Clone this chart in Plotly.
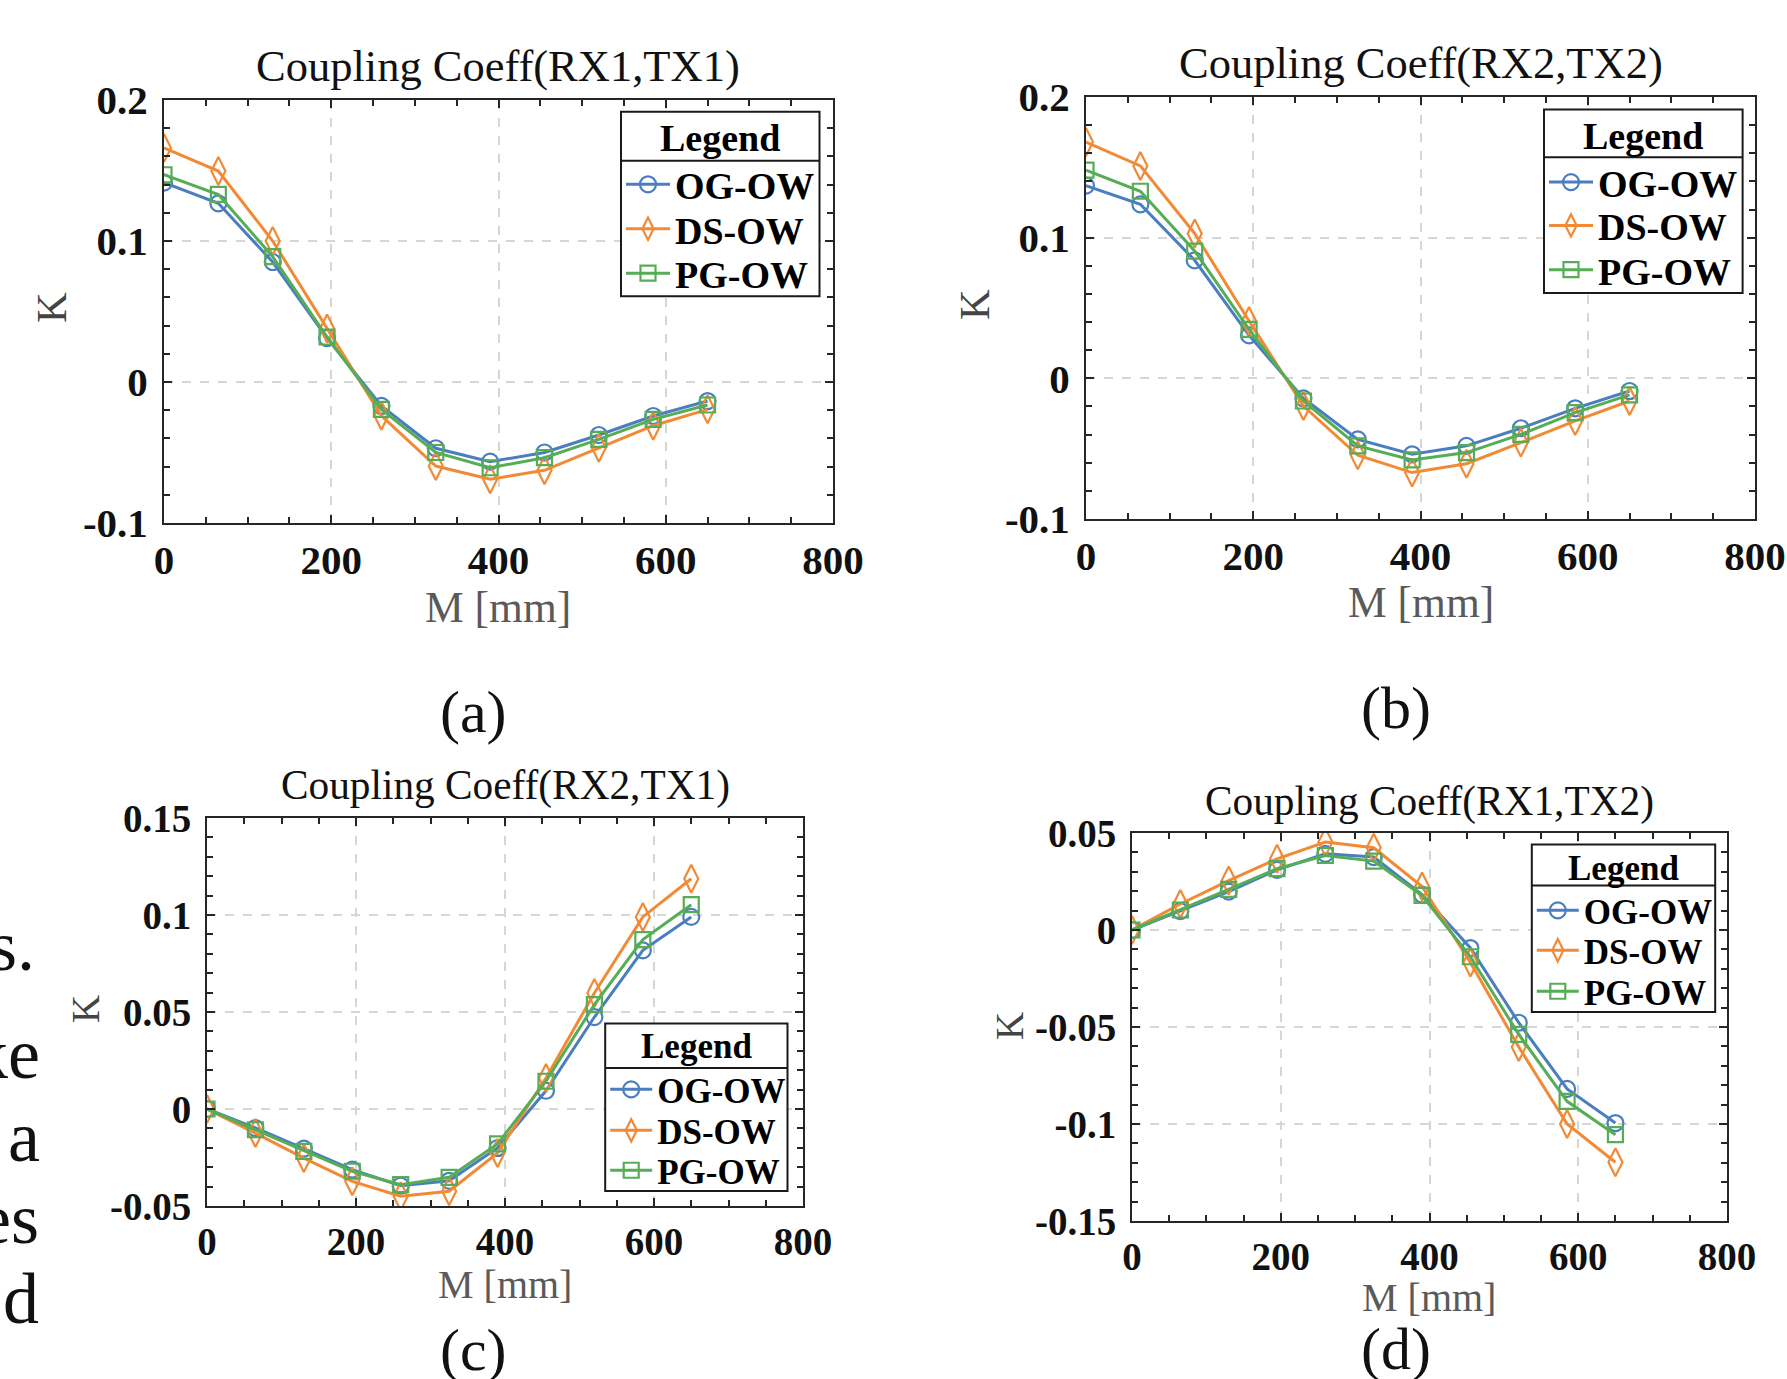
import plotly.graph_objects as go

# ---------------- data ----------------
M_mm = [0, 65, 130, 195, 260, 325, 390, 455, 520, 585, 650]
series_names = ["OG-OW", "DS-OW", "PG-OW"]

a_og = [0.1414, 0.1267, 0.0851, 0.0312, -0.0170, -0.0470, -0.0565, -0.0500, -0.0376, -0.0241, -0.0135]
a_ds = [0.1660, 0.1496, 0.1000, 0.0380, -0.0240, -0.0596, -0.0690, -0.0626, -0.0466, -0.0310, -0.0194]
a_pg = [0.1470, 0.1330, 0.0889, 0.0319, -0.0194, -0.0500, -0.0608, -0.0537, -0.0407, -0.0265, -0.0163]

b_og = [0.1370, 0.1237, 0.0839, 0.0306, -0.0142, -0.0434, -0.0540, -0.0480, -0.0355, -0.0213, -0.0090]
b_ds = [0.1680, 0.1510, 0.1030, 0.0408, -0.0197, -0.0547, -0.0670, -0.0607, -0.0457, -0.0303, -0.0161]
b_pg = [0.1480, 0.1330, 0.0905, 0.0348, -0.0161, -0.0480, -0.0580, -0.0528, -0.0398, -0.0244, -0.0118]

c_og = [0.0, -0.0098, -0.0204, -0.0313, -0.0395, -0.0370, -0.0201, 0.0094, 0.0474, 0.0818, 0.0990]
c_ds = [0.0, -0.0124, -0.0253, -0.0373, -0.0450, -0.0424, -0.0227, 0.0160, 0.0598, 0.0990, 0.1187]
c_pg = [0.0, -0.0107, -0.0218, -0.0321, -0.0390, -0.0352, -0.0180, 0.0143, 0.0538, 0.0873, 0.1053]

d_og = [0.0, 0.0097, 0.0198, 0.0310, 0.0393, 0.0376, 0.0183, -0.0093, -0.0478, -0.0819, -0.0995]
d_ds = [0.0, 0.0134, 0.0255, 0.0367, 0.0453, 0.0424, 0.0224, -0.0167, -0.0603, -0.1000, -0.1197]
d_pg = [0.0, 0.0103, 0.0209, 0.0316, 0.0384, 0.0355, 0.0178, -0.0138, -0.0538, -0.0883, -0.1055]

panel_titles = ["Coupling Coeff(RX1,TX1)", "Coupling Coeff(RX2,TX2)",
                "Coupling Coeff(RX2,TX1)", "Coupling Coeff(RX1,TX2)"]
panel_tags = ["(a)", "(b)", "(c)", "(d)"]
legend_title = "Legend"
x_label = "M [mm]"
y_label = "K"

x_tickvals = [0, 200, 400, 600, 800]
x_ticktext = ["0", "200", "400", "600", "800"]
y_tickvals_ab = [-0.1, 0, 0.1, 0.2]
y_ticktext_ab = ["-0.1", "0", "0.1", "0.2"]
y_tickvals_c = [-0.05, 0, 0.05, 0.1, 0.15]
y_ticktext_c = ["-0.05", "0", "0.05", "0.1", "0.15"]
y_tickvals_d = [-0.15, -0.1, -0.05, 0, 0.05]
y_ticktext_d = ["-0.15", "-0.1", "-0.05", "0", "0.05"]

body_fragments = ["s.", "ke", "a", "es", "d"]

# ---------------- styling / layout helpers ----------------
W, H = 1787, 1379
def px(x):
    return x / W
def py(y):
    return 1 - y / H

SERIF = "Liberation Serif"
colors = ["#4a7ebf", "#f28a35", "#56ad56"]
symbols = ["circle-open", "diamond-tall-open", "square-open"]
msizes = [16, 20, 15]

panels = [
    dict(data=[a_og, a_ds, a_pg], box=(164, 833, 100, 523), yr=[-0.1, 0.2], yt=(y_tickvals_ab, y_ticktext_ab), ymin=0.02,
         title=(498, 66), xl=(498, 607), yl=(51, 308), tag=(473, 712), tfs=44.5, afs=43.5, tkfs=41,
         lbox=(621, 819.5, 111.7, 296.3), ldiv=160.7, ltitle=138, rows=(184.6, 229, 273.5), lfs=38, iw=44),
    dict(data=[b_og, b_ds, b_pg], box=(1086, 1755, 97, 519), yr=[-0.1, 0.2], yt=(y_tickvals_ab, y_ticktext_ab), ymin=0.02,
         title=(1421, 63), xl=(1421, 602), yl=(974, 305), tag=(1396, 708), tfs=44.5, afs=43.5, tkfs=41,
         lbox=(1544, 1742.6, 109.4, 292.9), ldiv=157.3, ltitle=135.6, rows=(182.4, 225.7, 270), lfs=38, iw=44),
    dict(data=[c_og, c_ds, c_pg], box=(207, 803, 818, 1206), yr=[-0.05, 0.15], yt=(y_tickvals_c, y_ticktext_c), ymin=0.01,
         title=(505, 786), xl=(505, 1284), yl=(85, 1009), tag=(473, 1350), tfs=41.3, afs=40, tkfs=39,
         lbox=(605.2, 787.5, 1023.4, 1191), ldiv=1067.9, ltitle=1046.2, rows=(1089.6, 1130.6, 1170.5), lfs=35, iw=42),
    dict(data=[d_og, d_ds, d_pg], box=(1132, 1727, 833, 1221), yr=[-0.15, 0.05], yt=(y_tickvals_d, y_ticktext_d), ymin=0.01,
         title=(1429, 801), xl=(1429, 1297), yl=(1009, 1026), tag=(1396, 1349), tfs=41.3, afs=40, tkfs=39,
         lbox=(1531.8, 1715.2, 844.5, 1012), ldiv=885.5, ltitle=868.5, rows=(910.6, 950.5, 991.5), lfs=35, iw=42),
]

fig = go.Figure()
annotations = []
shapes = []
layout_extra = {}
leg_count = 0

for i, p in enumerate(panels):
    n = "" if i == 0 else str(i + 1)
    xa, ya = "x" + n, "y" + n
    lL, lR, lT, lB = p["lbox"]
    lf = dict(family=SERIF, size=p["lfs"], color="black", weight="bold")
    for s in range(3):
        leg_count += 1
        legname = "legend" if leg_count == 1 else "legend" + str(leg_count)
        fig.add_trace(go.Scatter(
            x=M_mm, y=p["data"][s], name=series_names[s], mode="lines+markers",
            xaxis=xa, yaxis=ya, legend=legname,
            line=dict(color=colors[s], width=3),
            marker=dict(symbol=symbols[s], size=msizes[s], color=colors[s], line=dict(width=2.2, color=colors[s])),
        ))
        layout_extra[legname] = dict(x=px(lL), y=py(p["rows"][s]), xanchor="left", yanchor="middle",
                                     bgcolor="rgba(0,0,0,0)", borderwidth=0,
                                     font=lf, itemwidth=p["iw"], tracegroupgap=0)
    L, R, T, B = p["box"]
    common = dict(showline=True, linecolor="#262626", linewidth=2, mirror="ticks",
                  ticks="inside", ticklen=8, tickwidth=1.5, tickcolor="#262626",
                  showgrid=True, gridcolor="#d6d6d6", griddash="dash", gridwidth=1.5,
                  zeroline=False, ticklabeloverflow="allow",
                  tickfont=dict(family=SERIF, size=p["tkfs"], color="#111", weight="bold"))
    layout_extra["xaxis" + n] = dict(common, domain=[px(L), px(R)], anchor=ya, range=[0, 800],
                                     tickmode="array", tickvals=x_tickvals, ticktext=x_ticktext,
                                     minor=dict(dtick=50, tick0=0, ticks="inside", ticklen=6, tickcolor="#262626", showgrid=False),
                                     ticklabelstandoff=0)
    layout_extra["yaxis" + n] = dict(common, domain=[py(B), py(T)], anchor=xa, range=p["yr"],
                                     tickmode="array", tickvals=p["yt"][0], ticktext=p["yt"][1],
                                     minor=dict(dtick=p["ymin"], tick0=0, ticks="inside", ticklen=6, tickcolor="#262626", showgrid=False),
                                     ticklabelstandoff=6)
    # legend frame (box + header divider)
    shapes.append(dict(type="rect", xref="paper", yref="paper", x0=px(lL), x1=px(lR), y0=py(lB), y1=py(lT),
                       fillcolor="white", line=dict(color="#1a1a1a", width=2), layer="above"))
    shapes.append(dict(type="line", xref="paper", yref="paper", x0=px(lL), x1=px(lR), y0=py(p["ldiv"]), y1=py(p["ldiv"]),
                       line=dict(color="#1a1a1a", width=2), layer="above"))
    annotations.append(dict(text=legend_title, x=px((lL + lR) / 2), y=py(p["ltitle"]), xref="paper", yref="paper",
                            showarrow=False, xanchor="center", yanchor="middle", font=lf))
    annotations.append(dict(text=panel_titles[i], x=px(p["title"][0]), y=py(p["title"][1]), xref="paper", yref="paper",
                            showarrow=False, xanchor="center", yanchor="middle",
                            font=dict(family=SERIF, size=p["tfs"], color="#111")))
    annotations.append(dict(text=x_label, x=px(p["xl"][0]), y=py(p["xl"][1]), xref="paper", yref="paper",
                            showarrow=False, xanchor="center", yanchor="middle",
                            font=dict(family=SERIF, size=p["afs"], color="#5a5a5a")))
    annotations.append(dict(text=y_label, x=px(p["yl"][0]), y=py(p["yl"][1]), xref="paper", yref="paper",
                            showarrow=False, xanchor="center", yanchor="middle", textangle=-90,
                            font=dict(family=SERIF, size=p["afs"] - 1, color="#444")))
    annotations.append(dict(text=panel_tags[i], x=px(p["tag"][0]), y=py(p["tag"][1]), xref="paper", yref="paper",
                            showarrow=False, xanchor="center", yanchor="middle",
                            font=dict(family=SERIF, size=60, color="#111")))

frag_y = [946, 1054, 1137, 1219, 1299]
frag_r = [37, 42, 42, 41, 41]
for t, yy, rr in zip(body_fragments, frag_y, frag_r):
    annotations.append(dict(text=t, x=px(rr), y=py(yy), xref="paper", yref="paper",
                            showarrow=False, xanchor="right", yanchor="middle",
                            font=dict(family=SERIF, size=72, color="#111")))

fig.update_layout(
    width=W, height=H, autosize=False,
    margin=dict(l=0, r=0, t=0, b=0, autoexpand=False),
    paper_bgcolor="white", plot_bgcolor="white",
    showlegend=True,
    annotations=annotations, shapes=shapes,
    **layout_extra,
)

fig.write_html("out.html", config={"displayModeBar": False},
               post_script="document.body.style.margin='0';document.body.style.overflow='hidden';")
